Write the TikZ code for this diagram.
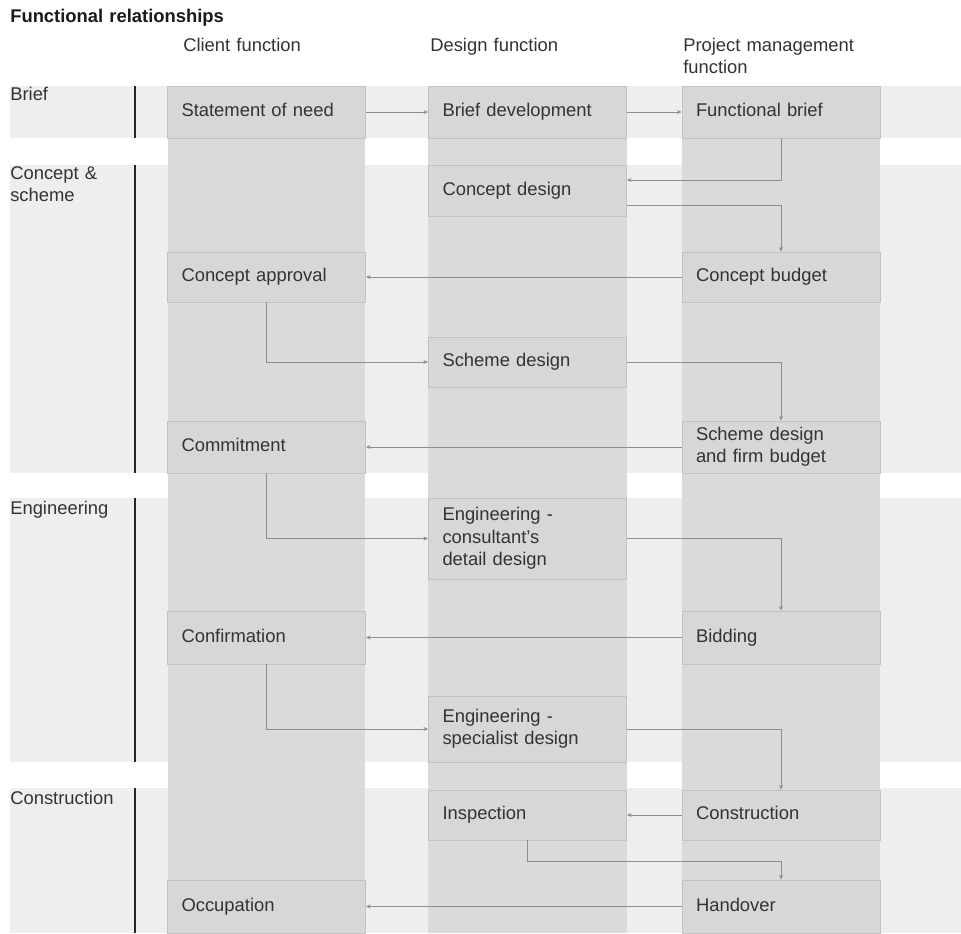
\documentclass[tikz,border=0pt]{standalone}
\usepackage{fontspec}
\setmainfont{Liberation Sans}
\usetikzlibrary{arrows.meta}
\definecolor{bandgray}{HTML}{EEEEEE}
\definecolor{colgray}{HTML}{DADADA}
\definecolor{boxgray}{HTML}{D7D7D7}
\definecolor{boxedge}{HTML}{C2C2C2}
\definecolor{linkgray}{HTML}{8E8E8E}
\definecolor{inkgray}{HTML}{333333}
\begin{document}
\begin{tikzpicture}[x=0.75pt,y=-0.75pt,
  txt/.style={font=\fontsize{13.8}{17}\selectfont, text=inkgray},
  label/.style={txt, inner sep=0pt, anchor=base west, align=left, text width=150pt},
  stagebox/.style={txt, draw=boxedge, fill=boxgray, line width=0.6pt,
    minimum width=148.5pt, text width=127.5pt, inner xsep=10.5pt,
    inner ysep=0pt, align=left,
    execute at begin node={\strut}, execute at end node={\strut}},
  conn/.style={draw=linkgray, line width=0.6pt,
    -{Stealth[length=3.5pt,width=3pt]}},
  bar/.style={line width=1.6pt, black!85}]
\useasboundingbox (0,0) rectangle (961,933);

% phase bands
\fill[bandgray] (10,86) rectangle (961,138);
\fill[bandgray] (10,165) rectangle (961,473);
\fill[bandgray] (10,498) rectangle (961,762);
\fill[bandgray] (10,788) rectangle (961,933);

% function columns
\fill[colgray] (168,86) rectangle (365,933);
\fill[colgray] (428,86) rectangle (627,933);
\fill[colgray] (682,86) rectangle (880,933);

% phase markers
\draw[bar] (135,86) -- (135,138);
\draw[bar] (135,165) -- (135,473);
\draw[bar] (135,498) -- (135,762);
\draw[bar] (135,788) -- (135,933);

% headings
\node[label, text width=300pt, font=\bfseries\fontsize{13.8}{17}\selectfont, text=black!90] (title) at (10,22) {Functional relationships};
\node[label] (hclient) at (183,51) {Client function};
\node[label] (hdesign) at (430,51) {Design function};
\node[label] (hpm) at (683,51) {Project management\\[-0.5pt]function};

\node[label] (pbrief) at (10,100) {Brief};
\node[label] (pconcept) at (10,179) {Concept \&\\[-0.5pt]scheme};
\node[label] (peng) at (10,514) {Engineering};
\node[label] (pcons) at (10,804) {Construction};

% activities
\node[stagebox, minimum height=39pt] (sn) at (266.5,112) {Statement of need};
\node[stagebox, minimum height=39pt] (bd) at (527.5,112) {Brief development};
\node[stagebox, minimum height=39pt] (fb) at (781,112) {Functional brief};
\node[stagebox, minimum height=38.25pt] (cd) at (527.5,190.5) {Concept design};
\node[stagebox, minimum height=37.5pt] (ca) at (266.5,277) {Concept approval};
\node[stagebox, minimum height=37.5pt] (cb) at (781,277) {Concept budget};
\node[stagebox, minimum height=37.5pt] (sd) at (527.5,362) {Scheme design};
\node[stagebox, minimum height=39pt] (com) at (266.5,447) {Commitment};
\node[stagebox, minimum height=39pt] (sdfb) at (781,447) {Scheme design\\and firm budget};
\node[stagebox, minimum height=60.75pt] (ec) at (527.5,538.5) {Engineering -\\consultant's\\detail design};
\node[stagebox, minimum height=39.75pt] (conf) at (266.5,637.5) {Confirmation};
\node[stagebox, minimum height=39.75pt] (bid) at (781,637.5) {Bidding};
\node[stagebox, minimum height=49.5pt] (es) at (527.5,729) {Engineering -\\specialist design};
\node[stagebox, minimum height=37.5pt] (insp) at (527.5,815) {Inspection};
\node[stagebox, minimum height=37.5pt] (cons) at (781,815) {Construction};
\node[stagebox, minimum height=39.75pt] (occ) at (266.5,906.5) {Occupation};
\node[stagebox, minimum height=39.75pt] (hand) at (781,906.5) {Handover};

% flow of work between functions
\draw[conn] (sn.east) -- (bd.west);
\draw[conn] (bd.east) -- (fb.west);
\draw[conn] (fb.south) |- ([yshift=7.9pt]cd.east);
\draw[conn] ([yshift=-10.9pt]cd.east) -| (cb.north);
\draw[conn] (cb.west) -- (ca.east);
\draw[conn] (ca.south) |- (sd.west);
\draw[conn] (sd.east) -| (sdfb.north);
\draw[conn] (sdfb.west) -- (com.east);
\draw[conn] (com.south) |- (ec.west);
\draw[conn] (ec.east) -| (bid.north);
\draw[conn] (bid.west) -- (conf.east);
\draw[conn] (conf.south) |- (es.west);
\draw[conn] (es.east) -| (cons.north);
\draw[conn] (cons.west) -- (insp.east);
\draw[conn] (insp.south) -- ++(0,21) -| (hand.north);
\draw[conn] (hand.west) -- (occ.east);
\end{tikzpicture}
\end{document}
